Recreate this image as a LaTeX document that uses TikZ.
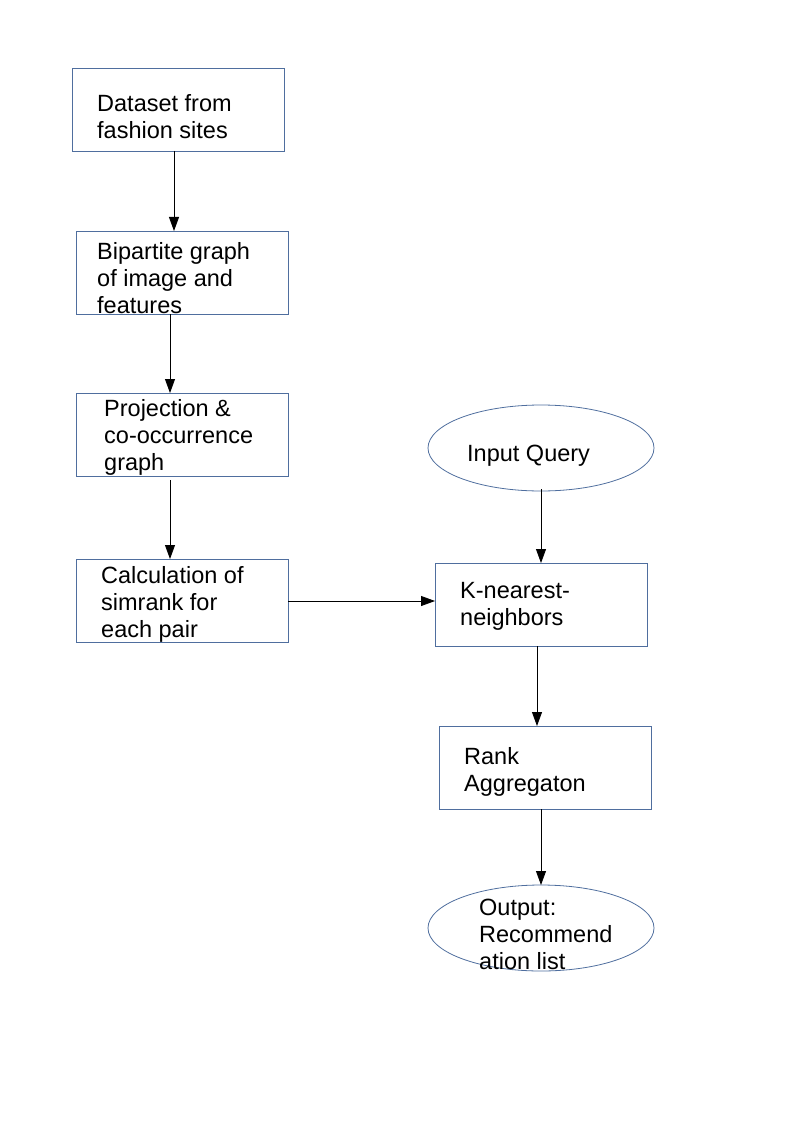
\documentclass[tikz,border=0pt]{standalone}
\usepackage{fontspec}
\setmainfont{Liberation Sans}
\usetikzlibrary{arrows.meta,shapes.geometric}
\definecolor{boxblue}{HTML}{4F6E9E}
\tikzset{
  boxnode/.style={draw=boxblue,line width=0.8pt,rectangle,minimum width=212pt,minimum height=83pt,inner sep=0pt},
  ellnode/.style={draw=boxblue,line width=0.8pt,ellipse,minimum width=226pt,minimum height=86pt,inner sep=0pt},
  txt/.style={anchor=west,align=left,inner sep=0pt,font=\fontsize{23.5pt}{27pt}\selectfont},
  conn/.style={line width=0.8pt,-{Triangle[length=14pt,width=10pt]}}
}
\begin{document}
\begin{tikzpicture}[x=1pt,y=-1pt]
\useasboundingbox (0,0) rectangle (794,1123);
\node[boxnode] (ds) at (178,109.5) {};
\node[txt] (dst) at (97,116.5) {Dataset from\\fashion sites};
\node[boxnode] (bg) at (182,272.5) {};
\node[txt] (bgt) at (97,278) {Bipartite graph\\of image and\\features};
\node[boxnode] (pr) at (182,434.5) {};
\node[txt] (prt) at (104,437) {Projection \&\\co-occurrence\\graph};
\node[boxnode] (ca) at (182,600.5) {};
\node[txt] (cat) at (101,604) {Calculation of\\simrank for\\each pair};
\node[ellnode] (iq) at (541,448) {};
\node[txt] (iqt) at (467,455.5) {Input Query};
\node[boxnode] (kn) at (541,604.5) {};
\node[txt] (knt) at (460,606.5) {K-nearest-\\neighbors};
\node[boxnode] (ra) at (545,767.5) {};
\node[txt] (rat) at (464,772) {Rank\\Aggregaton};
\node[ellnode] (op) at (541,928) {};
\node[txt] (opt) at (479,934) {Output:\\Recommend\\ation list};
\coordinate (a1) at (174,151); \coordinate (b1) at (174,231);
\coordinate (a2) at (170,314); \coordinate (b2) at (170,393);
\coordinate (a3) at (170,480); \coordinate (b3) at (170,559);
\coordinate (a4) at (288,601); \coordinate (b4) at (435,601);
\coordinate (a5) at (541,489); \coordinate (b5) at (541,563);
\coordinate (a6) at (537,646); \coordinate (b6) at (537,726);
\coordinate (a7) at (541,809); \coordinate (b7) at (541,885);
\draw[conn] (a1) -- (b1);
\draw[conn] (a2) -- (b2);
\draw[conn] (a3) -- (b3);
\draw[conn] (a4) -- (b4);
\draw[conn] (a5) -- (b5);
\draw[conn] (a6) -- (b6);
\draw[conn] (a7) -- (b7);
\end{tikzpicture}
\end{document}
